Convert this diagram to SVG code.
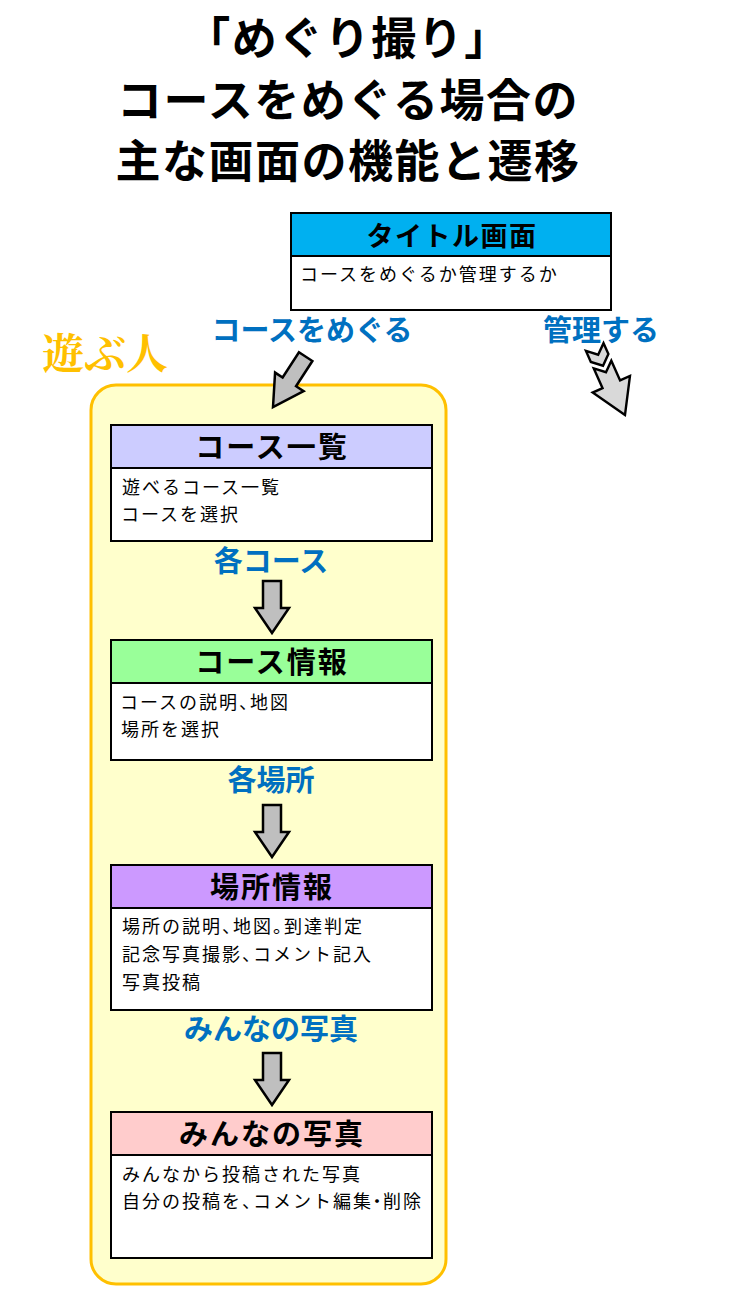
<svg xmlns="http://www.w3.org/2000/svg" width="733" height="1300" viewBox="0 0 733 1300">
<style>
text{font-family:"Noto Sans CJK JP","Noto Sans",sans-serif}
.title{font-size:45px;font-weight:bold;fill:#000;text-anchor:middle;letter-spacing:1.5px}
.hd{font-size:29px;font-weight:bold;fill:#000;text-anchor:middle;letter-spacing:2px}
.hd0{font-size:27px;font-weight:bold;fill:#000;text-anchor:middle;letter-spacing:1.5px}
.body{font-size:18px;fill:#000;letter-spacing:2px}
.p{letter-spacing:-7px}
.dot{letter-spacing:-3px}
.lbl{font-size:29px;font-weight:bold;fill:#0070C0;text-anchor:middle}
.box{fill:#fff;stroke:#000;stroke-width:2}
.hdr{stroke:#000;stroke-width:2}
.arr{fill:#BFBFBF;stroke:#000;stroke-width:2.5;stroke-linejoin:miter}
.arr2{fill:#D9D9D9;stroke:#000;stroke-width:2;stroke-linejoin:miter}
</style>
<defs>
<polygon id="down" points="-9,-52 9,-52 9,-25 17,-25 0,0 -17,-25 -9,-25"/>
</defs>
<rect width="733" height="1300" fill="#fff"/>
<g id="title">
<text class="title" x="348" y="55">「めぐり撮り」</text>
<text class="title" x="348" y="117">コースをめぐる場合の</text>
<text class="title" x="348" y="178">主な画面の機能と遷移</text>
</g>
<g id="player-group">
<rect x="91" y="385" width="355" height="899" rx="25" ry="25" fill="#FFFFCC" stroke="#FFC000" stroke-width="3"/>
<text x="42" y="369" style="font-family:'Noto Serif CJK JP','Noto Sans CJK JP',serif" font-size="42" font-weight="bold" fill="#FFC000">遊ぶ人</text>
</g>
<g id="node-title">
<rect class="box" x="291" y="213" width="320" height="97"/>
<rect class="hdr" x="291" y="213" width="320" height="43" fill="#00B0F0"/>
<text class="hd0" x="452" y="246">タイトル画面</text>
<text class="body" x="300" y="281">コースをめぐるか管理するか</text>
</g>
<g id="node-course-list">
<rect class="box" x="111" y="425" width="321" height="116"/>
<rect class="hdr" x="111" y="425" width="321" height="43" fill="#CCCCFF"/>
<text class="hd" x="272" y="458">コース一覧</text>
<text class="body" x="122" y="494">遊べるコース一覧</text>
<text class="body" x="121" y="521">コースを選択</text>
</g>
<g id="node-course-info">
<rect class="box" x="111" y="640" width="321" height="120"/>
<rect class="hdr" x="111" y="640" width="321" height="43" fill="#99FF99"/>
<text class="hd" x="272" y="673">コース情報</text>
<text class="body" x="120" y="709">コースの説明<tspan class="p">、</tspan>地図</text>
<text class="body" x="121" y="736">場所を選択</text>
</g>
<g id="node-place-info">
<rect class="box" x="111" y="865" width="321" height="145"/>
<rect class="hdr" x="111" y="865" width="321" height="43" fill="#CC99FF"/>
<text class="hd" x="272" y="898">場所情報</text>
<text class="body" x="122" y="933">場所の説明<tspan class="p">、</tspan>地図<tspan class="p">。</tspan>到達判定</text>
<text class="body" x="122" y="961">記念写真撮影<tspan class="p">、</tspan>コメント記入</text>
<text class="body" x="122" y="989">写真投稿</text>
</g>
<g id="node-photos">
<rect class="box" x="111" y="1112" width="321" height="146"/>
<rect class="hdr" x="111" y="1112" width="321" height="43" fill="#FFCCCC"/>
<text class="hd" x="272" y="1145">みんなの写真</text>
<text class="body" x="122" y="1181">みんなから投稿された写真</text>
<text class="body" x="122" y="1208">自分の投稿を<tspan class="p">、</tspan>コメント編<tspan class="dot">集</tspan><tspan class="dot">・</tspan>削除</text>
</g>
<g id="connectors">
<text class="lbl" x="312" y="341">コースをめぐる</text>
<polygon class="arr" points="-8,-60 8,-60 8,-30 17,-30 0,0 -17,-30 -8,-30" transform="translate(273,407) rotate(33)"/>
<text class="lbl" x="601" y="341">管理する</text>
<g transform="translate(625,415) rotate(-24) scale(1.2)">
<polygon class="arr2" points="0,0 -17,-28 -8,-28 -8,-46 0,-39 8,-46 8,-28 17,-28"/>
<polygon class="arr2" points="-8,-62 0,-55 8,-62 8,-52 0,-45 -8,-52"/>
</g>
<text class="lbl" x="271" y="572">各コース</text>
<use href="#down" class="arr" transform="translate(272,633)"/>
<text class="lbl" x="271" y="791">各場所</text>
<use href="#down" class="arr" transform="translate(272,857)"/>
<text class="lbl" x="271" y="1040">みんなの写真</text>
<use href="#down" class="arr" transform="translate(272,1105)"/>
</g>
</svg>
